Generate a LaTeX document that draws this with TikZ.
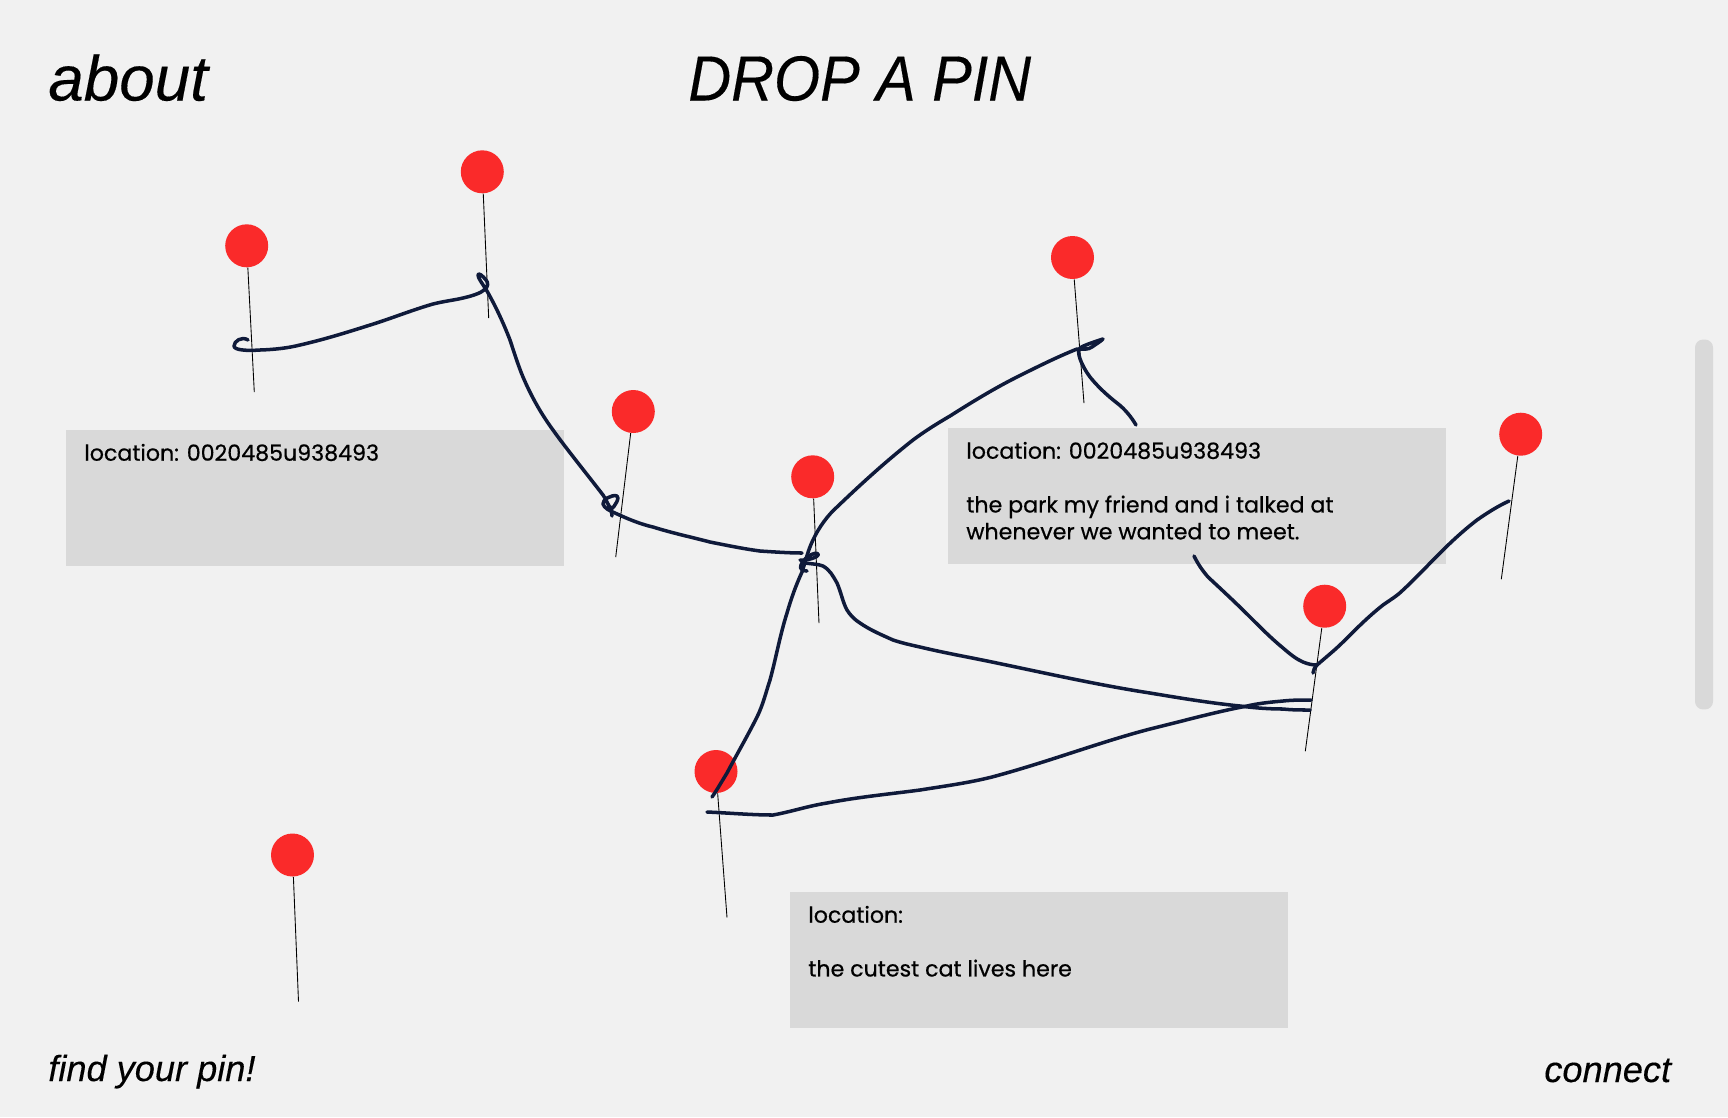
\documentclass[tikz,border=0pt]{standalone}
\usepackage{fontspec}
\usepackage{xcolor}
\usepackage{tikz}
\setmainfont[FakeBold=0.2]{Liberation Sans}
\newfontfamily\titlefont[FakeStretch=0.93,FakeBold=0.2]{Liberation Sans}
\newfontfamily\boxfont[FakeBold=0.6]{Poppins}
\definecolor{pagegrey}{HTML}{F1F1F1}
\definecolor{boxgrey}{HTML}{D9D9D9}
\definecolor{pinred}{HTML}{FA2A2A}
\definecolor{penblue}{HTML}{0F1A3A}
\tikzset{
	pinhead/.style={circle,fill=pinred,inner sep=0pt,minimum size=0.86cm},
	needle/.style={black,line width=0.5pt},
	scribble/.style={penblue,line width=2pt,line cap=round,line join=round},
	infobox/.style={fill=boxgrey,anchor=north west,inner sep=0pt,minimum width=9.96cm,minimum height=2.72cm},
	boxtext/.style={anchor=north west,inner sep=0pt,align=left,font=\boxfont\fontsize{12.6}{15.3}\selectfont},
	bigtext/.style={anchor=base west,inner sep=0pt,font=\itshape\fontsize{36.3}{40}\selectfont},
	smalltext/.style={anchor=base west,inner sep=0pt,font=\itshape\fontsize{20.6}{24}\selectfont}
}
\begin{document}
\begin{tikzpicture}[x=0.02cm,y=-0.02cm]
			\useasboundingbox (0,0) rectangle (1728,1117);
			\fill[pagegrey] (0,0) rectangle (1728,1117);
			\node[bigtext] (about) at (48,100.5) {about};
			\node[bigtext] (title) at (688,100.5) {\titlefont DROP A PIN};
			\node[smalltext] (findpin) at (48,1081) {find your pin!};
			\node[smalltext] (connect) at (1544,1082) {connect};
			\node[fill=boxgrey,rounded corners=0.16cm,inner sep=0pt,minimum width=0.36cm,minimum height=7.4cm] (scrollbar) at (1704,524.5) {};
			\node[infobox] (boxa) at (66,430) {};
			\node[infobox] (boxb) at (948,428) {};
			\node[infobox] (boxc) at (790,892) {};
			\node[boxtext] (texta) at ([shift={(18,13.5)}]boxa.north west) {location: 0020485u938493};
			\node[boxtext] (textb) at ([shift={(18,13.5)}]boxb.north west) {location: 0020485u938493\\[15.3pt]the park my friend and i talked at\\whenever we wanted to meet.};
			\node[boxtext] (textc) at ([shift={(18,13.5)}]boxc.north west) {location:\\[15.3pt]the cutest cat lives here};
			\node[pinhead] (pina) at (246.7,245.8) {};
			\node[pinhead] (pinb) at (482.3,171.8) {};
			\node[pinhead] (pinc) at (633.3,411.5) {};
			\node[pinhead] (pind) at (812.7,476.8) {};
			\node[pinhead] (pine) at (716,771.5) {};
			\node[pinhead] (pinf) at (292.5,855) {};
			\node[pinhead] (ping) at (1072.5,257.5) {};
			\node[pinhead] (pinh) at (1324.7,606.2) {};
			\node[pinhead] (pini) at (1520.7,434.2) {};
			\coordinate (tipa) at (254.3,392.2);
			\coordinate (tipb) at (488.7,318.2);
			\coordinate (tipc) at (615.7,557.2);
			\coordinate (tipd) at (819,623.2);
			\coordinate (tipe) at (727,917.5);
			\coordinate (tipf) at (298.5,1001.5);
			\coordinate (tipg) at (1084,403.2);
			\coordinate (tiph) at (1305.3,751.2);
			\coordinate (tipi) at (1501.3,579.2);
			\draw[needle] (pina) -- (tipa);
			\draw[needle] (pinb) -- (tipb);
			\draw[needle] (pinc) -- (tipc);
			\draw[needle] (pind) -- (tipd);
			\draw[needle] (pine) -- (tipe);
			\draw[needle] (pinf) -- (tipf);
			\draw[needle] (ping) -- (tipg);
			\draw[needle] (pinh) -- (tiph);
			\draw[needle] (pini) -- (tipi);
			\draw[scribble] (248,340) .. controls (242,336) and (234,341) .. (234,346) .. controls (234,350) and (246,351) .. (260,350) .. controls (275,349.5) and (288,348) .. (300,345) .. controls (322,340) and (345,333) .. (367,326) .. controls (390,319) and (412,310) .. (433,304) .. controls (445,301) and (455,300) .. (463,298) .. controls (472,296) and (481,293) .. (484,290) .. controls (489,287) and (488,282) .. (486,280) .. controls (483,276) and (478,272) .. (478,275) .. controls (478,278) and (482,283) .. (487,291) .. controls (496,307) and (503,322) .. (510,340) .. controls (514,352) and (518,365) .. (523,377) .. controls (532,398) and (542,415) .. (553,430) .. controls (565,447) and (590,478) .. (603,495) .. controls (606,499) and (608,505) .. (611,509) .. controls (615,507) and (620,497) .. (617,496) .. controls (612,494) and (602,500) .. (603,504) .. controls (604,508) and (610,511) .. (615,513) .. controls (628,519) and (640,524) .. (653,527) .. controls (672,533) and (691,537) .. (710,542) .. controls (730,546) and (745,549) .. (760,551) .. controls (775,552) and (790,553) .. (802,553);
			\draw[scribble] (611,507) -- (612,516);
			\draw[scribble] (712,797) .. controls (717,790) and (722,781) .. (727,773) .. controls (737,754) and (748,735) .. (757,717) .. controls (763,705) and (766,692) .. (770,680) .. controls (776,658) and (780,635) .. (787,613) .. controls (791,599) and (796,585) .. (802,572) .. controls (806,560) and (808,550) .. (813,540) .. controls (819,527) and (828,515) .. (837,507) .. controls (860,485) and (885,462) .. (913,440) .. controls (925,431) and (938,423) .. (950,416) .. controls (972,402) and (995,388) .. (1017,377) .. controls (1037,367) and (1057,357) .. (1077,349) .. controls (1083,349) and (1088,350) .. (1092,347) .. controls (1096,344) and (1100,342) .. (1103,339) .. controls (1097,341) and (1084,345) .. (1080,348) .. controls (1076,351) and (1081,365) .. (1090,377) .. controls (1098,387) and (1108,396) .. (1117,403) .. controls (1125,409) and (1132,418) .. (1136,425);
			\draw[scribble] (800,560) .. controls (806,561) and (820,557) .. (818,554) .. controls (815,551) and (803,558) .. (801,565) .. controls (799,569) and (803,571) .. (807,571);
			\draw[scribble] (805,563) .. controls (812,564) and (818,564) .. (823,566) .. controls (830,570) and (833,576) .. (837,583) .. controls (841,592) and (843,603) .. (847,610) .. controls (850,615) and (855,620) .. (860,623) .. controls (870,630) and (882,635) .. (893,640) .. controls (902,643) and (911,645) .. (920,647) .. controls (945,653) and (968,657) .. (992,662) .. controls (1045,673) and (1098,685) .. (1150,693) .. controls (1180,698) and (1210,703) .. (1240,706) .. controls (1255,708) and (1270,709) .. (1283,709) .. controls (1292,710) and (1301,710) .. (1310,710);
			\draw[scribble] (707,812) .. controls (730,813) and (752,815) .. (773,815) .. controls (790,812) and (808,806) .. (827,803) .. controls (858,797) and (890,794) .. (920,790) .. controls (945,786) and (968,783) .. (992,777) .. controls (1048,762) and (1100,742) .. (1150,729) .. controls (1183,721) and (1215,712) .. (1247,706) .. controls (1260,703) and (1272,702) .. (1283,701) .. controls (1292,700) and (1302,700) .. (1311,700);
			\draw[scribble] (1194,556) .. controls (1198,564) and (1202,570) .. (1208,577) .. controls (1222,590) and (1236,603) .. (1250,617) .. controls (1261,628) and (1272,639) .. (1283,648) .. controls (1290,654) and (1296,659) .. (1303,662) .. controls (1308,664) and (1312,665) .. (1317,665);
			\draw[scribble] (1313,673) .. controls (1313,670) and (1315,667) .. (1317,665) .. controls (1325,658) and (1335,650) .. (1343,642) .. controls (1357,628) and (1369,616) .. (1383,605) .. controls (1390,600) and (1397,596) .. (1403,590) .. controls (1416,578) and (1428,565) .. (1440,553) .. controls (1452,541) and (1464,530) .. (1477,520) .. controls (1487,513) and (1498,506) .. (1509,501);
		\end{tikzpicture}
\end{document}
